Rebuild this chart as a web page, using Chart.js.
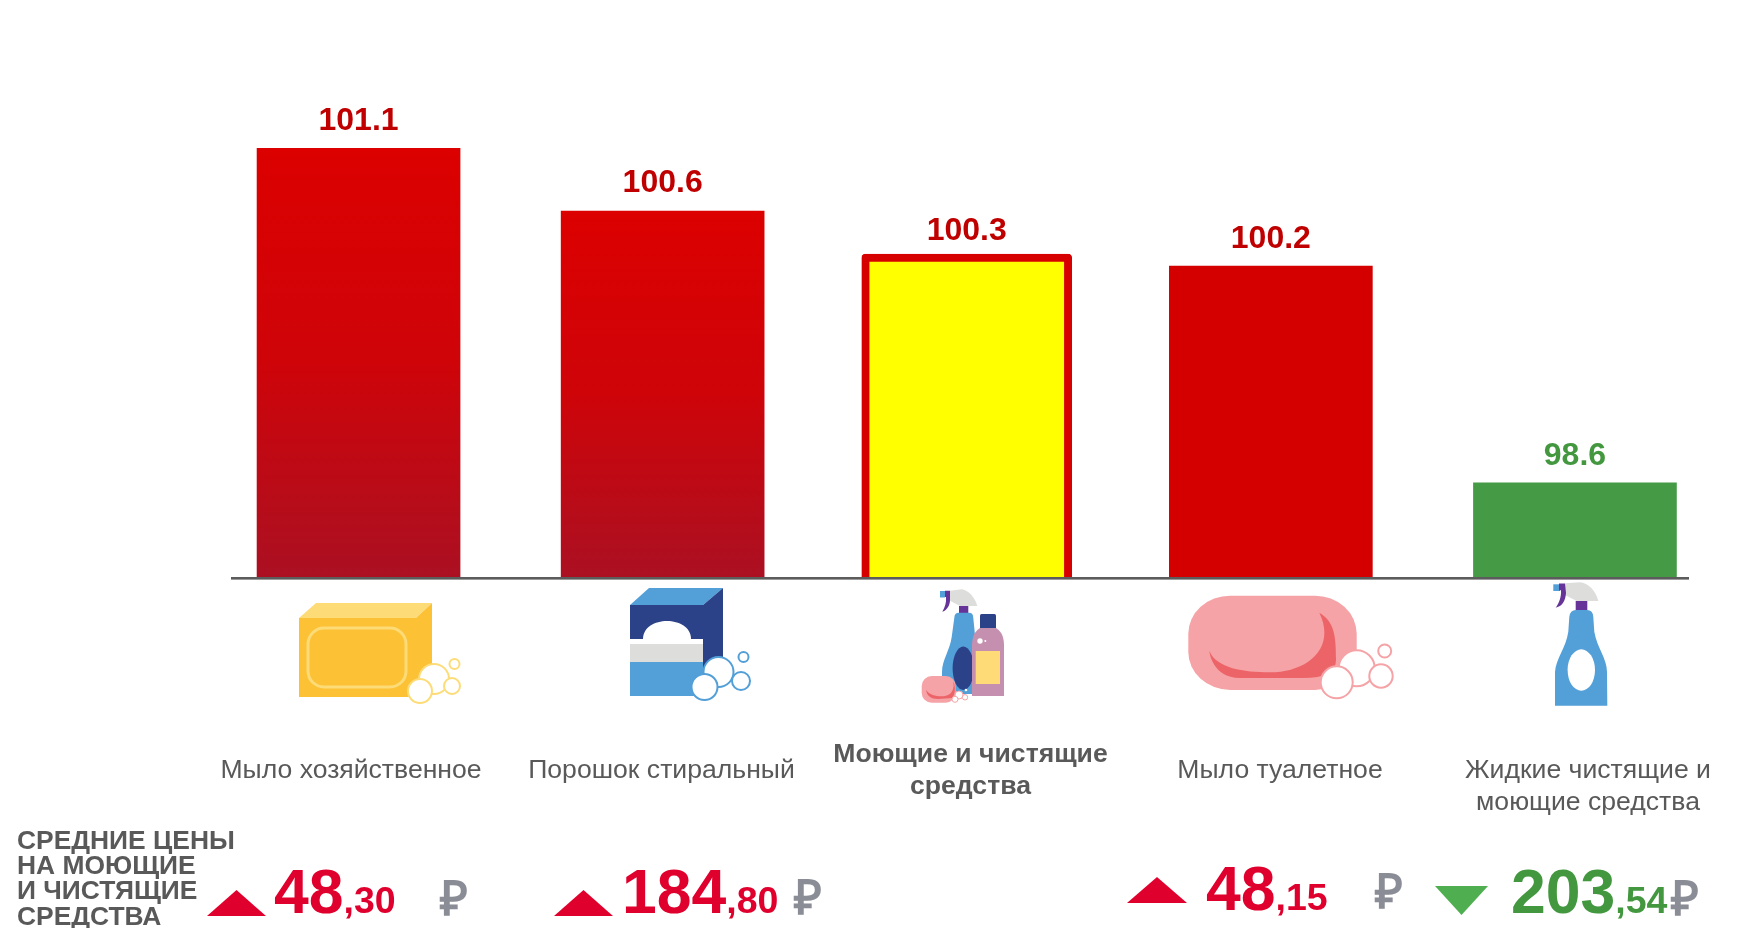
<!DOCTYPE html>
<html lang="ru"><head><meta charset="utf-8">
<script src="https://cdn.jsdelivr.net/npm/chart.js@4/dist/chart.umd.min.js"></script>
<style>
html,body{margin:0;padding:0;background:#fff;overflow:hidden}
#wrap{position:relative;width:1737px;height:928px;font-family:"Liberation Sans",Arial,sans-serif}
canvas{position:absolute;left:0;top:0}
svg{position:absolute;left:0;top:0}
.t{position:absolute;white-space:nowrap}
.cat{color:#595959;font-size:26.6px;line-height:32px;text-align:center;transform:translateX(-50%)}
.ttl{color:#595959;font-weight:bold;font-size:26.4px;line-height:25.4px;left:17px;top:827.6px}
.big{font-weight:bold;font-size:62.5px;line-height:64px}
.big span{font-size:37.5px}
.rub{color:#8A8C96;font-weight:bold;font-size:48px;line-height:48px}
</style></head><body>
<div id="wrap"><canvas id="c" width="1737" height="928"></canvas>
<svg width="1737" height="928" viewBox="0 0 1737 928">
 <g transform="translate(-1,0)">
 <!-- household soap -->
 <polygon points="300,618 317,603 433,603 417,618" fill="#FDDC78"/>
 <polygon points="417,618 433,603 433,690 417,697" fill="#FCC134"/>
 <rect x="300" y="618" width="117" height="79" fill="#FCC134"/>
 <rect x="309" y="628" width="98" height="59" rx="16" fill="none" stroke="#FDDC78" stroke-width="3"/>
 <g fill="#fff" stroke="#FDDC78" stroke-width="2"><circle cx="435" cy="679" r="15"/><circle cx="453" cy="686" r="8"/><circle cx="455.5" cy="664" r="5"/><circle cx="421" cy="691" r="12"/></g>
 <!-- powder box -->
 <polygon points="631,605 650,588 724,588 704,605" fill="#539FD8"/>
 <polygon points="704,605 724,588 724,675 704,692" fill="#2B4289"/>
 <rect x="631" y="605" width="73" height="34" fill="#2B4289"/>
 <path d="M644,639 C644,615 692,615 692,639 Z" fill="#fff"/>
 <rect x="631" y="639" width="73" height="5" fill="#fff"/>
 <rect x="631" y="644" width="73" height="18" fill="#DDDDDC"/>
 <rect x="631" y="662" width="73" height="34" fill="#539FD8"/>
 <g fill="#fff" stroke="#539FD8" stroke-width="2"><circle cx="719.5" cy="672" r="15"/><circle cx="742" cy="681" r="9"/><circle cx="744.5" cy="657" r="5"/><circle cx="705.5" cy="687" r="13"/></g>
 </g>
 <!-- group of bottles -->
 <path d="M950,590.7 L961.7,589.3 C968,590 975,597 977.3,606 L960,606 L950,600.7 Z" fill="#DDDDDC"/>
 <rect x="940" y="591" width="5" height="6.5" fill="#539FD8"/>
 <path d="M945,590.7 L950,590.7 L950,600 C950,606 946,611 942.3,611.7 C945,607 946.5,603 946,597 L945,597 Z" fill="#663399"/>
 <rect x="959" y="606" width="9.3" height="7" fill="#663399"/>
 <path d="M954.3,618 Q954.3,612.7 959,612.7 L969,612.7 Q973.3,612.7 973.3,618 L974.5,630 L980,694 L942,694 L942,672 C942,660 950,650 951.7,637 Z" fill="#539FD8"/>
 <ellipse cx="963.3" cy="668.3" rx="10.7" ry="21.7" fill="#2B4289"/>
 <rect x="980" y="614" width="16" height="15" rx="1.5" fill="#2B4289"/>
 <path d="M980,628 L996,628 C1003,632 1004,640 1004,646 L1004,696 L972,696 L972,646 C972,640 973,632 980,628 Z" fill="#C58FB0"/>
 <rect x="975.7" y="651" width="24.3" height="33" fill="#FFDB78"/>
 <circle cx="980" cy="641" r="2.7" fill="#fff"/><circle cx="985.3" cy="641" r="1" fill="#fff"/>
 <circle cx="966" cy="690" r="1.3" fill="#fff"/>
 <rect x="921.7" y="676" width="34" height="26.7" rx="10" fill="#F5A3A6"/>
 <path d="M926,690 C930,696 940,697 945,696 C952,695 955,688 953,681 C956,686 955.5,695 952,698 L938,699 C931,699 927,696 926,690 Z" fill="#EC6468"/>
 <g fill="#fff" stroke="#F5A3A6" stroke-width="1"><circle cx="959" cy="695" r="4"/><circle cx="965" cy="697.3" r="2.7"/><circle cx="955" cy="699.3" r="3"/></g>
 <!-- toilet soap -->
 <rect x="1188.3" y="595.7" width="168.4" height="94.3" rx="42" ry="38" fill="#F5A3A6"/>
 <path d="M1209.3,651 C1216.7,668.3 1243.3,672.3 1270,672.3 C1306.7,672.3 1336.7,648.3 1319.3,612.7 C1335,621.7 1336,638 1336,660 Q1336,678 1303,678 L1240,678 C1212,678 1209.3,651 1209.3,651 Z" fill="#EC6468"/>
 <g fill="#fff" stroke="#F5A3A6" stroke-width="2"><circle cx="1356.7" cy="668.3" r="18"/><circle cx="1381" cy="676" r="11.7"/><circle cx="1384.7" cy="651" r="6.5"/><circle cx="1336.7" cy="682.3" r="16"/></g>
 <!-- liquid cleaner -->
 <path d="M1565,583.3 L1580,582.3 C1588,583 1596,591 1598.3,601 L1576.7,601 L1565,595 Z" fill="#DDDDDC"/>
 <rect x="1553.3" y="584.3" width="6" height="6.7" fill="#539FD8"/>
 <path d="M1559,583.5 L1565,583.5 L1566,593 C1565.5,600 1563,606 1555.7,607.7 C1559,603 1561.5,597 1561,590 L1559,591 Z" fill="#663399"/>
 <rect x="1575.7" y="601" width="11.6" height="9.5" fill="#663399"/>
 <path d="M1569.3,617 Q1570,610 1576,610 L1587,610 Q1593,610 1593.3,617 L1594.3,631.7 C1597,648 1607,658 1607,672 L1607.3,705.7 L1555,705.7 L1555,672 C1556,658 1566,648 1568.3,631.7 Z" fill="#539FD8"/>
 <ellipse cx="1581.3" cy="670" rx="13.7" ry="20.7" fill="#fff"/>
 <!-- price arrows -->
 <g id="arrows"></g>
</svg>
<div class="t ttl">СРЕДНИЕ ЦЕНЫ<br>НА МОЮЩИЕ<br>И ЧИСТЯЩИЕ<br>СРЕДСТВА</div>
</div>
<script>
const categories = ["Мыло хозяйственное","Порошок стиральный","Моющие и чистящие средства","Мыло туалетное","Жидкие чистящие и моющие средства"];
const categoryLines = [["Мыло хозяйственное"],["Порошок стиральный"],["Моющие и чистящие","средства"],["Мыло туалетное"],["Жидкие чистящие и","моющие средства"]];
const indexValues = [101.1,100.632,100.311,100.221,98.6];
const highlightIndex = 2;
const priceRub = ["48","184",null,"48","203"];
const priceKop = ["30","80",null,"15","54"];
const priceUp = [true,true,null,true,false];

// layout only
const catX = [351,661.5,970.5,1280,1588], catTop = [753,753,737,753,753];
const labelGap = [27,28,23,27,27];
const priceLayout = [
 {tri:[207,266,890,916],x:274,base:913,rub:[440,883]},
 {tri:[554,613,890,916],x:622,base:913,rub:[794,882]},
 null,
 {tri:[1127,1187,877,903],x:1206,base:910,rub:[1375,876]},
 {tri:[1435,1488,886,915],x:1511,base:913,rub:[1671,883]}
];
const wrap=document.getElementById('wrap');
function el(cls,html,l,t,col){const d=document.createElement('div');d.className='t '+cls;d.innerHTML=html;d.style.left=l+'px';d.style.top=t+'px';if(col)d.style.color=col;wrap.appendChild(d);return d;}
categoryLines.forEach((ls,i)=>{const d=el('cat',ls.join('<br>'),catX[i],catTop[i]);if(i===highlightIndex)d.style.fontWeight='bold';});
const arrows=document.getElementById('arrows');
priceRub.forEach((r,i)=>{
  const p=priceLayout[i]; if(!p||r===null) return;
  const up=priceUp[i];
  el('big',r+'<span>,'+priceKop[i]+'</span>',p.x,p.base-53.7,up?'#E0002D':'#43983F');
  el('rub','₽',p.rub[0],p.rub[1]-8);
  const [a,b,c,d]=p.tri, m=(a+b)/2;
  const poly=document.createElementNS('http://www.w3.org/2000/svg','polygon');
  poly.setAttribute('points',up?`${a},${d} ${b},${d} ${m},${c}`:`${a},${c} ${b},${c} ${m},${d}`);
  poly.setAttribute('fill',up?'#E0002D':'#4FAF50');
  arrows.appendChild(poly);
});

function gradFor(ctx,v){
  const {chart}=ctx, y=chart.scales.y;
  if(!y||y.bottom===undefined) return '#D40000';
  const g=chart.ctx.createLinearGradient(0,y.getPixelForValue(v),0,y.bottom);
  g.addColorStop(0,'#DC0000');g.addColorStop(0.5,'#CE0409');g.addColorStop(1,'#AB1022');
  return g;
}
const barColors = [c=>gradFor(c,indexValues[0]),c=>gradFor(c,indexValues[1]),()=>'#FFFF00',()=>'#D40000',()=>'#459A45'];
const labelColors = ['#C00000','#C00000','#C00000','#C00000','#43983F'];

const axisLine={id:'axisLine',afterDatasetsDraw(chart){
  const {ctx,chartArea:a}=chart,y=chart.scales.y.bottom;
  ctx.save();
  ctx.fillStyle='#5C5C5C';ctx.fillRect(a.left+24.5,y,1458,2);
  ctx.fillStyle='#9a9a9a';ctx.fillRect(a.left+24.5,y+2,1458,1);
  ctx.restore();
}};
const valueLabels={id:'valueLabels',afterDatasetsDraw(chart){
  const {ctx}=chart;
  ctx.save();ctx.font='bold 32px "Liberation Sans",Arial,sans-serif';ctx.textAlign='center';ctx.textBaseline='middle';
  indexValues.forEach((v,i)=>{
    ctx.fillStyle=labelColors[i];
    ctx.fillText(v.toFixed(1),chart.scales.x.getPixelForValue(i),chart.scales.y.getPixelForValue(v)-labelGap[i]);
  });
  ctx.restore();
}};
new Chart(document.getElementById('c'),{
  type:'bar',
  data:{labels:categories,datasets:[
    {label:'Индекс',data:indexValues.map((v,i)=>i===highlightIndex?null:v),barThickness:203,
     backgroundColor:c=>barColors[c.dataIndex](c),borderWidth:0},
    {label:'Индекс (группа)',data:indexValues.map((v,i)=>i===highlightIndex?v:null),barThickness:210,
     backgroundColor:'#FFFF00',borderColor:'#D60000',borderWidth:8,borderSkipped:'bottom',borderRadius:{topLeft:4,topRight:4}}
  ]},
  plugins:[axisLine,valueLabels],
  options:{responsive:false,animation:false,devicePixelRatio:1,
    layout:{padding:{left:206.5,right:10,top:28,bottom:351}},
    plugins:{legend:{display:false},tooltip:{enabled:false},title:{display:false}},
    datasets:{bar:{grouped:false}},
    scales:{
      x:{display:false,grid:{display:false}},
      y:{display:false,min:97.897,max:102,grid:{display:false}}
    }}
});
</script>
</body></html>
